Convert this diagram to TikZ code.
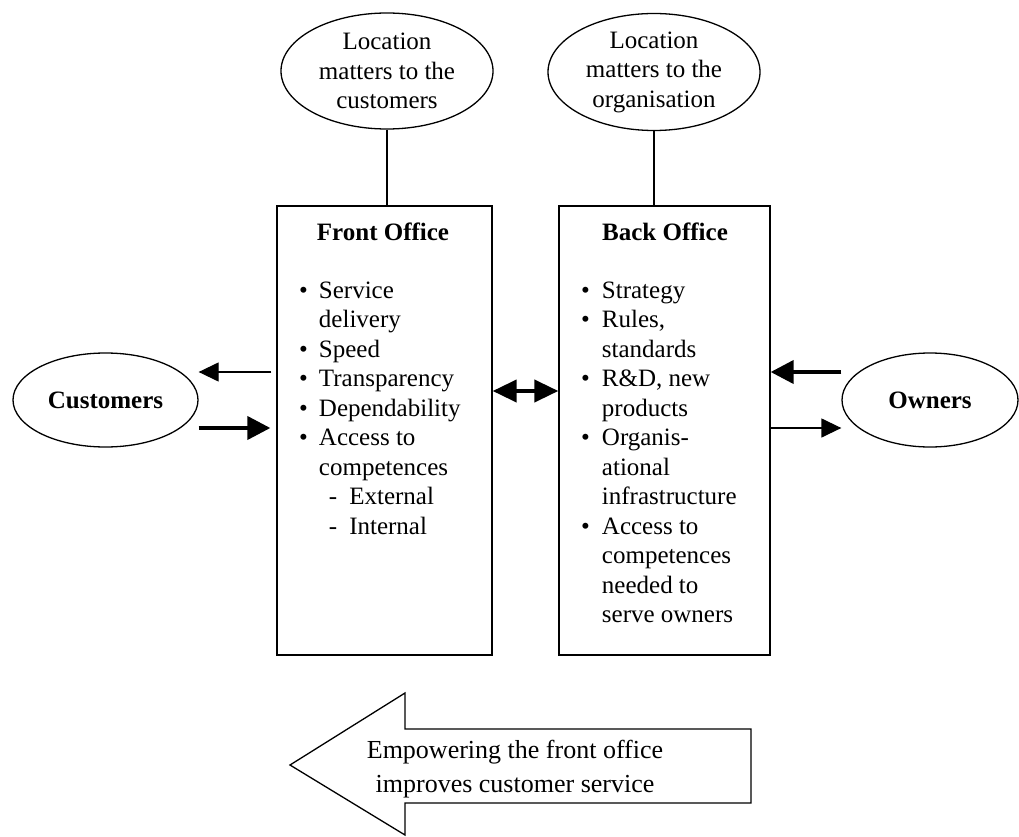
\documentclass[tikz,border=0pt]{standalone}
\usepackage{fontspec}
\setmainfont{Liberation Serif}
\usetikzlibrary{arrows.meta,shapes.geometric}
\begin{document}
\begin{tikzpicture}[x=1pt,y=-1pt,
  every node/.style={font=\fontsize{25}{29.5}\selectfont},
  line/.style={line width=1.3pt},
  oval/.style={draw, line width=1.3pt, ellipse, inner sep=0pt},
  office/.style={draw, line width=1.3pt, rectangle, inner sep=0pt},
  thinarrow/.style={line width=1.3pt, -{Triangle[length=20pt,width=19pt]}},
  thickarrow/.style={line width=4pt, -{Triangle[length=23pt,width=23pt]}},
  botharrow/.style={line width=4pt, {Triangle[length=24pt,width=22pt]}-{Triangle[length=24pt,width=22pt]}},
  title/.style={font=\fontsize{25}{29.5}\selectfont\bfseries},
]
\useasboundingbox (0,0) rectangle (1019,837);

% location ovals
\node[oval, minimum width=212pt, minimum height=116pt] (tlc) at (387,71) {};
\node[align=center] (tlctext) at (387,71) {Location\\matters to the\\customers};
\node[oval, minimum width=212pt, minimum height=117pt] (trc) at (654,72) {};
\node[align=center] (trctext) at (654,72) {Location\\matters to the\\organisation};

% office boxes
\node[office, minimum width=215pt, minimum height=449pt] (front) at (384.5,430.5) {};
\node[office, minimum width=211pt, minimum height=449pt] (back) at (664.5,430.5) {};
\node[title] (fronttitle) at (383,232) {Front Office};
\node[title] (backtitle) at (665,232) {Back Office};

\node[anchor=base west, inner sep=0pt] (frontlist) at (299,298) {%
\begin{tabular}[t]{@{}l@{\hspace{11pt}}l@{}}
\textbullet & Service\\
            & delivery\\
\textbullet & Speed\\
\textbullet & Transparency\\
\textbullet & Dependability\\
\textbullet & Access to\\
            & competences\\
            & \hspace{10pt}-\hspace{12pt}External\\
            & \hspace{10pt}-\hspace{12pt}Internal
\end{tabular}};

\node[anchor=base west, inner sep=0pt] (backlist) at (581,298) {%
\begin{tabular}[t]{@{}l@{\hspace{12pt}}l@{}}
\textbullet & Strategy\\
\textbullet & Rules,\\
            & standards\\
\textbullet & R\&D, new\\
            & products\\
\textbullet & Organis-\\
            & ational\\
            & infrastructure\\
\textbullet & Access to\\
            & competences\\
            & needed to\\
            & serve owners
\end{tabular}};

% parties
\node[oval, minimum width=185pt, minimum height=94pt, font=\fontsize{25}{29.5}\selectfont\bfseries] (cust) at (105.5,400) {Customers};
\node[oval, minimum width=176pt, minimum height=94pt, font=\fontsize{25}{29.5}\selectfont\bfseries] (own) at (930,400) {Owners};

% connectors
\draw[line] (tlc.south) -- (tlc.south |- front.north);
\draw[line] (trc.south) -- (trc.south |- back.north);

\coordinate (ytop) at (0,372);
\coordinate (ybot) at (0,428);
\coordinate (ymid) at (0,391);
\draw[thinarrow, shorten <=5pt] (front.west |- ytop) -- (cust.east |- ytop);
\draw[thickarrow, shorten >=6pt] (cust.east |- ybot) -- (front.west |- ybot);
\draw[thickarrow] (own.west |- ytop) -- (back.east |- ytop);
\draw[thinarrow] (back.east |- ybot) -- (own.west |- ybot);
\draw[botharrow] (front.east |- ymid) -- (back.west |- ymid);

% broad arrow pointing towards the front office
\draw[line, line join=miter] (751,729) -- (405,729) -- (405,693) -- (290,765)
  -- (405,835) -- (405,803) -- (751,803) -- cycle;
\node[align=center, font=\fontsize{26}{34}\selectfont] (arrowtext) at (515,769)
  {Empowering the front office\\improves customer service};
\end{tikzpicture}
\end{document}
